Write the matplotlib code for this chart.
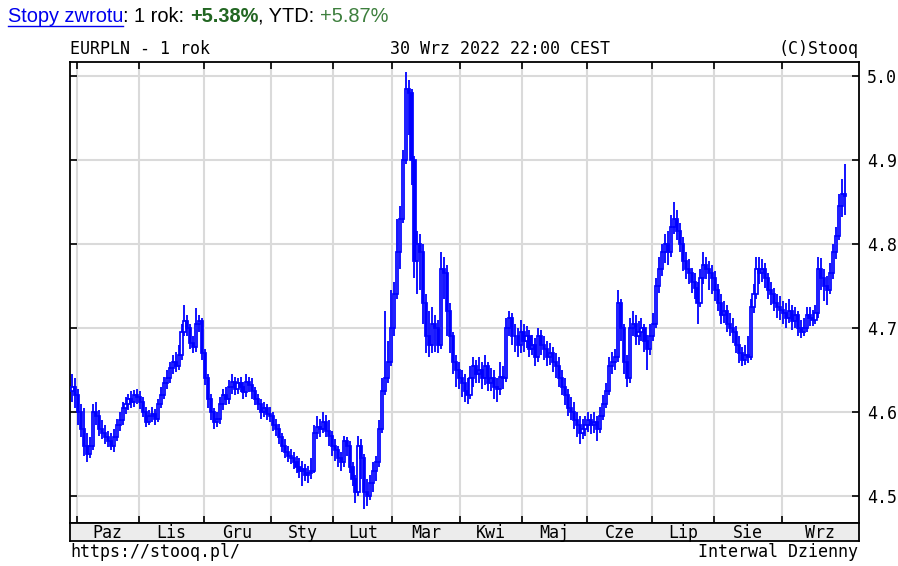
import numpy as np
import pandas as pd
import matplotlib.pyplot as plt
from matplotlib.lines import Line2D

# --- data: EURPLN daily candles, 29 Sep 2021 .. 30 Sep 2022 ---
dates = pd.bdate_range("2021-09-29", "2022-09-30")

close = [
    # Paz
    4.630, 4.620, 4.600, 4.580, 4.560, 4.550, 4.560, 4.600, 4.595, 4.580, 4.575, 4.570,
    4.565, 4.560, 4.570, 4.585, 4.590, 4.605, 4.610, 4.615, 4.612, 4.620, 4.618,
    # Lis
    4.612, 4.600, 4.588, 4.595, 4.598, 4.592, 4.610, 4.620, 4.635, 4.640, 4.652, 4.660,
    4.655, 4.668, 4.695, 4.708, 4.700, 4.682, 4.678, 4.705, 4.708, 4.670,
    # Gru
    4.640, 4.615, 4.600, 4.588, 4.592, 4.610, 4.620, 4.615, 4.630, 4.636, 4.628, 4.634,
    4.630, 4.624, 4.636, 4.632, 4.625, 4.615, 4.610, 4.600, 4.605, 4.598, 4.595,
    # Sty
    4.585, 4.580, 4.570, 4.560, 4.552, 4.548, 4.545, 4.540, 4.535, 4.530, 4.532, 4.525,
    4.528, 4.530, 4.575, 4.582, 4.580, 4.588, 4.578, 4.572, 4.560,
    # Lut
    4.555, 4.545, 4.540, 4.565, 4.560, 4.535, 4.520, 4.505, 4.560, 4.545, 4.505, 4.500,
    4.515, 4.530, 4.540, 4.580, 4.625, 4.640, 4.660, 4.700,
    # Mar
    4.740, 4.790, 4.830, 4.900, 4.985, 4.980, 4.900, 4.780, 4.800, 4.790, 4.730, 4.690,
    4.680, 4.705, 4.700, 4.680, 4.770, 4.765, 4.720, 4.690, 4.660, 4.650, 4.640,
    # Kwi
    4.635, 4.625, 4.620, 4.640, 4.655, 4.645, 4.650, 4.640, 4.655, 4.635, 4.640, 4.630,
    4.628, 4.642, 4.640, 4.700, 4.712, 4.690, 4.690, 4.680, 4.695,
    # Maj
    4.685, 4.690, 4.675, 4.680, 4.665, 4.690, 4.680, 4.675, 4.665, 4.670, 4.660, 4.655,
    4.640, 4.630, 4.620, 4.605, 4.600, 4.590, 4.585, 4.575, 4.580, 4.585,
    # Cze
    4.590, 4.585, 4.588, 4.580, 4.595, 4.610, 4.625, 4.655, 4.660, 4.665, 4.730, 4.700,
    4.660, 4.640, 4.700, 4.705, 4.690, 4.695, 4.700, 4.685, 4.675, 4.690,
    # Lip
    4.705, 4.750, 4.770, 4.790, 4.800, 4.790, 4.820, 4.830, 4.815, 4.800, 4.780, 4.770,
    4.765, 4.755, 4.748, 4.730, 4.760, 4.775, 4.770, 4.765, 4.760,
    # Sie
    4.745, 4.730, 4.715, 4.720, 4.705, 4.700, 4.695, 4.680, 4.670, 4.662, 4.668, 4.665,
    4.725, 4.740, 4.770, 4.765, 4.770, 4.760, 4.745, 4.740, 4.730, 4.725, 4.722,
    # Wrz
    4.718, 4.712, 4.720, 4.708, 4.715, 4.700, 4.695, 4.700, 4.715, 4.712, 4.710, 4.718,
    4.770, 4.760, 4.750, 4.745, 4.765, 4.790, 4.810, 4.845, 4.860, 4.857,
]

high = [
    4.645, 4.640, 4.628, 4.610, 4.605, 4.575, 4.570, 4.610, 4.612, 4.602, 4.590, 4.585,
    4.578, 4.575, 4.580, 4.592, 4.600, 4.612, 4.618, 4.622, 4.625, 4.626, 4.628,
    4.625, 4.618, 4.606, 4.602, 4.606, 4.604, 4.616, 4.630, 4.642, 4.650, 4.660, 4.668,
    4.672, 4.680, 4.705, 4.727, 4.715, 4.705, 4.690, 4.724, 4.716, 4.712,
    4.675, 4.645, 4.622, 4.605, 4.600, 4.618, 4.628, 4.630, 4.638, 4.645, 4.642, 4.640,
    4.642, 4.636, 4.645, 4.642, 4.640, 4.630, 4.622, 4.615, 4.612, 4.610, 4.606,
    4.600, 4.592, 4.586, 4.575, 4.568, 4.560, 4.556, 4.552, 4.548, 4.545, 4.542, 4.538,
    4.536, 4.545, 4.585, 4.595, 4.592, 4.600, 4.596, 4.590, 4.578,
    4.568, 4.560, 4.552, 4.572, 4.570, 4.565, 4.540, 4.525, 4.572, 4.568, 4.550, 4.520,
    4.525, 4.540, 4.548, 4.590, 4.640, 4.720, 4.685, 4.745,
    4.755, 4.830, 4.845, 4.912, 5.005, 4.995, 4.985, 4.905, 4.815, 4.812, 4.800, 4.740,
    4.720, 4.725, 4.715, 4.710, 4.790, 4.785, 4.775, 4.730, 4.695, 4.668, 4.660,
    4.650, 4.645, 4.640, 4.655, 4.665, 4.662, 4.666, 4.660, 4.668, 4.660, 4.652, 4.650,
    4.640, 4.660, 4.655, 4.712, 4.720, 4.718, 4.705, 4.700, 4.710,
    4.705, 4.702, 4.698, 4.692, 4.688, 4.700, 4.698, 4.690, 4.685, 4.682, 4.678, 4.670,
    4.665, 4.650, 4.640, 4.628, 4.618, 4.612, 4.600, 4.595, 4.592, 4.595,
    4.600, 4.598, 4.600, 4.595, 4.606, 4.620, 4.635, 4.665, 4.672, 4.675, 4.745, 4.735,
    4.705, 4.668, 4.712, 4.720, 4.715, 4.708, 4.712, 4.705, 4.692, 4.705,
    4.718, 4.760, 4.785, 4.800, 4.812, 4.815, 4.835, 4.850, 4.840, 4.825, 4.808, 4.790,
    4.782, 4.772, 4.765, 4.755, 4.770, 4.790, 4.785, 4.780, 4.775,
    4.768, 4.752, 4.740, 4.732, 4.728, 4.718, 4.712, 4.702, 4.690, 4.678, 4.680, 4.690,
    4.735, 4.752, 4.785, 4.785, 4.782, 4.778, 4.765, 4.755, 4.748, 4.740, 4.738,
    4.732, 4.730, 4.735, 4.728, 4.725, 4.720, 4.710, 4.712, 4.725, 4.725, 4.722, 4.728,
    4.785, 4.783, 4.770, 4.762, 4.778, 4.800, 4.820, 4.860, 4.878, 4.895,
]

low = [
    4.612, 4.605, 4.585, 4.570, 4.548, 4.540, 4.545, 4.555, 4.585, 4.572, 4.568, 4.562,
    4.558, 4.555, 4.552, 4.565, 4.578, 4.585, 4.598, 4.602, 4.605, 4.606, 4.610,
    4.604, 4.594, 4.582, 4.584, 4.588, 4.585, 4.588, 4.605, 4.615, 4.628, 4.634, 4.645,
    4.648, 4.650, 4.662, 4.690, 4.690, 4.675, 4.670, 4.672, 4.695, 4.662,
    4.632, 4.605, 4.590, 4.580, 4.582, 4.586, 4.602, 4.608, 4.610, 4.622, 4.620, 4.622,
    4.624, 4.616, 4.618, 4.624, 4.615, 4.608, 4.602, 4.592, 4.594, 4.590, 4.588,
    4.578, 4.572, 4.562, 4.552, 4.545, 4.540, 4.538, 4.532, 4.528, 4.522, 4.512, 4.518,
    4.516, 4.520, 4.528, 4.568, 4.570, 4.575, 4.570, 4.560, 4.548,
    4.542, 4.535, 4.530, 4.535, 4.548, 4.528, 4.512, 4.492, 4.500, 4.520, 4.484, 4.488,
    4.495, 4.505, 4.518, 4.535, 4.575, 4.620, 4.635, 4.655,
    4.690, 4.735, 4.770, 4.825, 4.895, 4.930, 4.870, 4.760, 4.740, 4.745, 4.705, 4.670,
    4.665, 4.670, 4.672, 4.670, 4.675, 4.735, 4.690, 4.670, 4.645, 4.630, 4.628,
    4.618, 4.612, 4.610, 4.615, 4.630, 4.635, 4.635, 4.628, 4.632, 4.625, 4.625, 4.615,
    4.612, 4.620, 4.628, 4.636, 4.690, 4.680, 4.672, 4.665, 4.670,
    4.672, 4.676, 4.665, 4.668, 4.655, 4.660, 4.668, 4.662, 4.655, 4.656, 4.648, 4.640,
    4.630, 4.620, 4.608, 4.595, 4.590, 4.580, 4.570, 4.562, 4.568, 4.572,
    4.576, 4.574, 4.575, 4.566, 4.575, 4.590, 4.605, 4.620, 4.645, 4.650, 4.660, 4.685,
    4.645, 4.630, 4.635, 4.690, 4.680, 4.680, 4.685, 4.672, 4.650, 4.668,
    4.685, 4.700, 4.742, 4.762, 4.778, 4.775, 4.785, 4.812, 4.805, 4.790, 4.768, 4.758,
    4.752, 4.742, 4.735, 4.705, 4.725, 4.752, 4.758, 4.745, 4.740,
    4.732, 4.720, 4.705, 4.706, 4.695, 4.690, 4.682, 4.670, 4.658, 4.655, 4.656, 4.658,
    4.662, 4.718, 4.735, 4.752, 4.755, 4.748, 4.735, 4.728, 4.720, 4.712, 4.710,
    4.705, 4.700, 4.706, 4.698, 4.700, 4.690, 4.688, 4.690, 4.695, 4.702, 4.702, 4.705,
    4.712, 4.745, 4.732, 4.728, 4.740, 4.758, 4.782, 4.805, 4.832, 4.835,
]

open0 = 4.625
opens = [open0] + close[:-1]

month_names = ["Paz", "Lis", "Gru", "Sty", "Lut", "Mar", "Kwi", "Maj", "Cze", "Lip", "Sie", "Wrz"]
yticks = [4.5, 4.6, 4.7, 4.8, 4.9, 5.0]

assert len(close) == len(high) == len(low) == len(dates)

# --- layout (pixels of a 898x566 picture) ---
W, H = 898, 566
L, R, T, B = 69.5, 858.5, 62, 523
mono = "DejaVu Sans Mono"
blue = "#0000ff"

fig = plt.figure(figsize=(W / 100, H / 100), dpi=100)
ax = fig.add_axes([L / W, 1 - B / H, (R - L) / W, (B - T) / H])
strip = fig.add_axes([L / W, 1 - 541 / H, (R - L) / W, (541 - B) / H])

x = np.arange(len(dates))
o = np.array(opens)
c = np.array(close)
up = c >= o

# candles: wick, then body (hollow when up, filled when down)
ax.vlines(x, low, high, color=blue, lw=1.3, zorder=3)
ax.bar(x, c - o, bottom=o, width=0.72,
       color=np.where(up, "white", blue), edgecolor=blue, lw=1.25, zorder=4)

# month boundaries from the dates
starts = [i for i in range(1, len(dates)) if dates[i].month != dates[i - 1].month]
bounds = [s - 0.5 for s in starts]
xmin, xmax = -1.0, 266.6

ax.set_xlim(xmin, xmax)
ax.set_ylim(4.4679, 5.0167)
ax.set_xticks(bounds)
ax.set_yticks(yticks)
ax.set_yticklabels([f"{v:.1f}" for v in yticks], family=mono, fontsize=12)
ax.grid(True, color="#dadada", lw=1.5, zorder=0)
ax.tick_params(axis="x", direction="in", length=5, width=1.2, top=True, bottom=True,
               labelbottom=False)
ax.tick_params(axis="y", direction="in", length=5, width=1.2, left=True, right=True,
               labelleft=False, labelright=True, pad=6)
for sp in ax.spines.values():
    sp.set_linewidth(1.3)

# month label strip
strip.set_facecolor("#ececec")
strip.set_xlim(xmin, xmax)
strip.set_ylim(0, 1)
strip.set_xticks([])
strip.set_yticks([])
for sp in strip.spines.values():
    sp.set_linewidth(1.3)
edges = bounds + [xmax]
for name, a, b in zip(month_names, edges[:-1], edges[1:]):
    strip.text((a + b) / 2, 0.45, name, ha="center", va="center", family=mono, fontsize=12)

# header and footer texts
fig.text(70 / W, 1 - 49 / H, "EURPLN - 1 rok", family=mono, fontsize=12, va="center")
fig.text(390 / W, 1 - 49 / H, "30 Wrz 2022 22:00 CEST", family=mono, fontsize=12, va="center")
fig.text(R / W, 1 - 49 / H, "(C)Stooq", family=mono, fontsize=12, va="center", ha="right")
fig.text(70 / W, 1 - 552 / H, "https://stooq.pl/", family=mono, fontsize=12, va="center")
fig.text(R / W, 1 - 552 / H, "Interwal Dzienny", family=mono, fontsize=12, va="center", ha="right")

# return line on top, pieces placed one after another
parts = [("Stopy zwrotu", "#0000ee", "normal"), (": 1 rok: ", "black", "normal"),
         ("+5.38%", "#226622", "bold"), (", YTD: ", "black", "normal"),
         ("+5.87%", "#3d7f3d", "normal")]
rend = fig.canvas.get_renderer()
px = 8
for s, col, w in parts:
    t = fig.text(px / W, 1 - 16 / H, s, color=col, weight=w, family="Liberation Sans",
                 fontsize=14.4, va="center")
    bb = t.get_window_extent(rend)
    if s == "Stopy zwrotu":
        fig.add_artist(Line2D([bb.x0 / W, bb.x1 / W], [1 - 25.5 / H, 1 - 25.5 / H],
                              color=col, lw=1))
    px = bb.x1

fig.savefig("out.png", dpi=100)
